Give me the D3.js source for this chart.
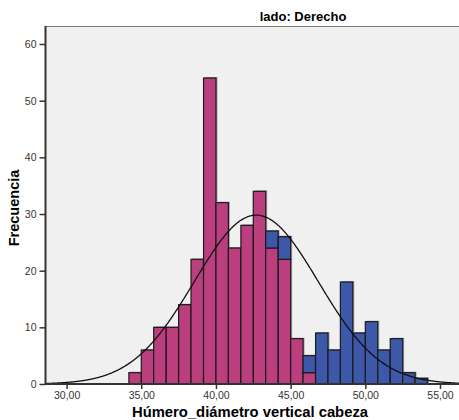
<!DOCTYPE html>
<html>
<head>
<meta charset="utf-8">
<script src="https://cdn.jsdelivr.net/npm/d3@7"></script>
<style>
  body { margin: 0; background: #fff; }
  svg text { font-family: "Liberation Sans", Arial, sans-serif; }
</style>
</head>
<body>
<div id="chart"></div>
<script>
const width = 459;
const height = 420;

// Histogram data - lower bound of each bin and counts per group
const binWidth = 5 / 6;
const binStarts = [34.17, 35.00, 35.83, 36.67, 37.50, 38.33, 39.17, 40.00, 40.83, 41.67, 42.50, 43.33,
                   44.17, 45.00, 45.83, 46.67, 47.50, 48.33, 49.17, 50.00, 50.83, 51.67, 52.50, 53.33];
const countsPink = [2, 6, 10, 10, 14, 22, 54, 32, 24, 28, 34, 24, 22, 8, 2, 0, 0, 0, 0, 0, 0, 0, 0, 0];
const countsBlue = [0, 0, 0, 0, 0, 0, 0, 0, 0, 0, 0, 3, 4, 0, 3, 9, 6, 18, 9, 11, 6, 8, 2, 1];

// Normal curve parameters
const curveMean = 42.7;
const curveSd = 4.15;

// Tick labels
const xTicks = [30, 35, 40, 45, 50, 55];
const yTicks = [0, 10, 20, 30, 40, 50, 60];

const titleText = 'lado: Derecho';
const xTitle = 'Húmero_diámetro vertical cabeza';
const yTitle = 'Frecuencia';

const colorPink = '#bb3f7f';
const colorBlue = '#3d57a9';

// Scales
let x = d3.scaleLinear().domain([30, 55]).range([66.6, 440]);
let y = d3.scaleLinear().domain([0, 60]).range([384, 44]);
const xMin = x.invert(45.5);
const xMax = x.invert(470);
const yTop = y.invert(26);

let svg = d3.select('#chart')
  .append('svg')
    .attr('width', width)
    .attr('height', height);

// Plot background
svg.append('rect')
  .attr('x', x(xMin))
  .attr('y', y(yTop))
  .attr('width', x(xMax) - x(xMin))
  .attr('height', y(0) - y(yTop))
  .attr('fill', '#f0f0f0');

svg.append('line')
  .attr('x1', x(xMin)).attr('x2', x(xMax))
  .attr('y1', y(yTop) + 0.5).attr('y2', y(yTop) + 0.5)
  .attr('stroke', '#777').attr('stroke-width', 1);

// Bars
const bins = binStarts.map((b, i) => ({x0: b, x1: b + binWidth, pink: countsPink[i], blue: countsBlue[i]}));

let bars = svg.append('g').attr('class', 'bars');
bins.forEach(d => {
  const total = d.pink + d.blue;
  if (total === 0) return;
  // drop shadow
  bars.append('rect')
    .attr('x', x(d.x0) + 1.5)
    .attr('y', y(total) - 1)
    .attr('width', x(d.x1) - x(d.x0))
    .attr('height', y(0) - y(total) + 1)
    .attr('fill', '#a8a8a8');
});
bins.forEach(d => {
  if (d.pink > 0) {
    bars.append('rect')
      .attr('x', x(d.x0))
      .attr('y', y(d.pink))
      .attr('width', x(d.x1) - x(d.x0))
      .attr('height', y(0) - y(d.pink))
      .attr('fill', colorPink)
      .attr('stroke', '#1a1a1a')
      .attr('stroke-width', 1.2);
  }
  if (d.blue > 0) {
    bars.append('rect')
      .attr('x', x(d.x0))
      .attr('y', y(d.pink + d.blue))
      .attr('width', x(d.x1) - x(d.x0))
      .attr('height', y(d.pink) - y(d.pink + d.blue))
      .attr('fill', colorBlue)
      .attr('stroke', '#1a1a1a')
      .attr('stroke-width', 1.2);
  }
});

// Normal curve
const total = d3.sum(countsPink) + d3.sum(countsBlue);
const density = v => total * binWidth / (curveSd * Math.sqrt(2 * Math.PI)) *
  Math.exp(-0.5 * Math.pow((v - curveMean) / curveSd, 2));
const curvePts = d3.range(xMin, xMax, 0.05);
let line = d3.line()
  .x(v => x(v))
  .y(v => y(density(v)))
  .curve(d3.curveMonotoneX);
svg.append('path')
  .datum(curvePts)
  .attr('d', line)
  .attr('fill', 'none')
  .attr('stroke', '#111')
  .attr('stroke-width', 1.3);

// Axes
let xAxis = svg.append('g')
  .attr('transform', 'translate(0,' + y(0) + ')')
  .call(d3.axisBottom(x).tickValues(xTicks).tickSize(5).tickPadding(2).tickSizeOuter(0)
    .tickFormat(d => d3.format('.2f')(d).replace('.', ',')));
xAxis.select('.domain').remove();
xAxis.selectAll('line').attr('stroke', '#333').attr('stroke-width', 1.5);
xAxis.selectAll('text').attr('fill', '#333').attr('font-size', 10.5).attr('dy', '0.75em');
svg.append('line')
  .attr('x1', x(xMin)).attr('x2', x(xMax))
  .attr('y1', y(0)).attr('y2', y(0))
  .attr('stroke', '#333').attr('stroke-width', 2);

let yAxis = svg.append('g')
  .attr('transform', 'translate(' + x(xMin) + ',0)')
  .call(d3.axisLeft(y).tickValues(yTicks).tickSize(6).tickPadding(3).tickSizeOuter(0));
yAxis.select('.domain').remove();
yAxis.selectAll('line').attr('stroke', '#333').attr('stroke-width', 1.5);
yAxis.selectAll('text').attr('fill', '#333').attr('font-size', 10.5);
svg.append('line')
  .attr('x1', x(xMin)).attr('x2', x(xMin))
  .attr('y1', y(yTop)).attr('y2', y(0) + 1)
  .attr('stroke', '#333').attr('stroke-width', 2);

// Titles
svg.append('text')
  .attr('x', 303).attr('y', 21)
  .attr('text-anchor', 'middle')
  .attr('font-size', 13).attr('font-weight', 'bold')
  .text(titleText);

svg.append('text')
  .attr('x', 250).attr('y', 417)
  .attr('text-anchor', 'middle')
  .attr('font-size', 14.8).attr('font-weight', 'bold')
  .text(xTitle);

svg.append('text')
  .attr('transform', 'translate(19,208) rotate(-90)')
  .attr('text-anchor', 'middle')
  .attr('font-size', 14.5).attr('font-weight', 'bold')
  .text(yTitle);
</script>
</body>
</html>
